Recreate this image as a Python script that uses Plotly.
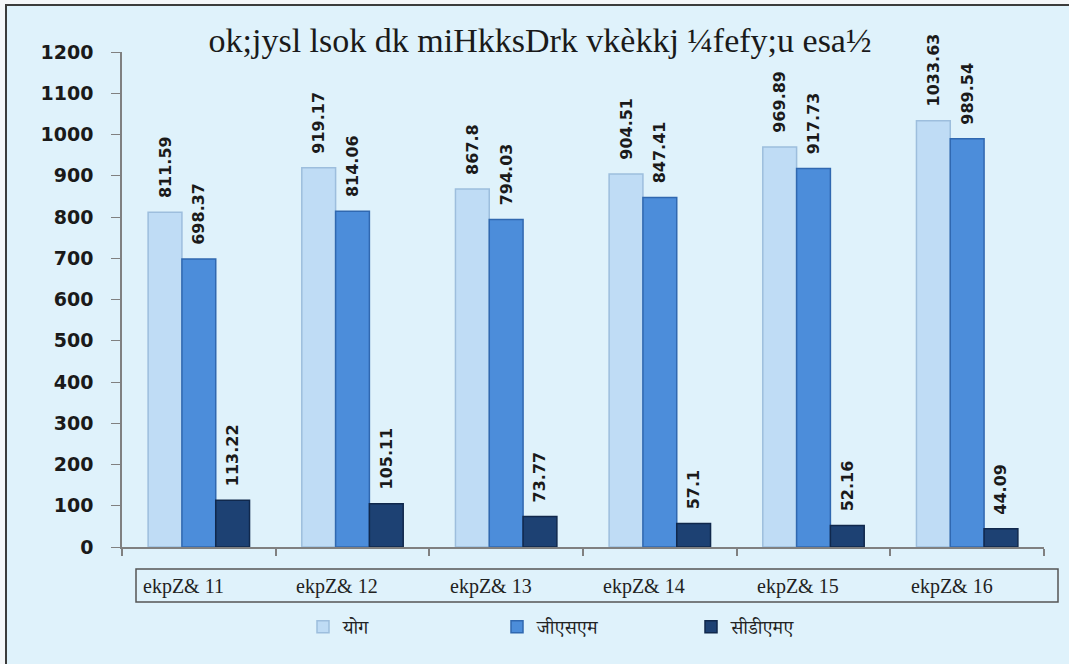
import plotly.graph_objects as go

# Wireless subscriber base (in millions), March of each year
categories = ["ekpZ& 11", "ekpZ& 12", "ekpZ& 13", "ekpZ& 14", "ekpZ& 15", "ekpZ& 16"]
series_names = ["योग", "जीएसएम", "सीडीएमए"]
total = [811.59, 919.17, 867.8, 904.51, 969.89, 1033.63]
gsm = [698.37, 814.06, 794.03, 847.41, 917.73, 989.54]
cdma = [113.22, 105.11, 73.77, 57.1, 52.16, 44.09]
y_ticks = list(range(0, 1201, 100))
title_text = "ok;jysl lsok dk miHkksDrk vkèkkj ¼fefy;u esa½"

fills = ["#BFDCF5", "#4C8DDA", "#1D4173"]
edges = ["#9DBEDD", "#3068B0", "#10284C"]

W, H = 1069, 664
L, R, T, B = 122, 25, 52, 117
pw, ph = W - L - R, H - T - B

def px_x(p):
    return (p - L) / pw

def px_y(p):
    return (H - B - p) / ph

x_pos = list(range(len(categories)))

fig = go.Figure()
for name, vals, fc, ec in zip(series_names, [total, gsm, cdma], fills, edges):
    fig.add_trace(go.Bar(
        x=x_pos, y=vals, name=name,
        text=[str(v) for v in vals],
        marker=dict(color=fc, line=dict(color=ec, width=1.5)),
        texttemplate="\u00a0\u00a0%{text}", textposition="outside", textangle=-90,
        constraintext="none",
        textfont=dict(family="DejaVu Sans", size=16, color="#1a1a1a", weight="bold"),
        cliponaxis=False,
    ))

# category labels inside a framed strip under the axis
for i, c in enumerate(categories):
    fig.add_annotation(x=i - 0.1, y=px_y(586), xref="x", yref="paper",
                       yanchor="middle", text=c, showarrow=False,
                       font=dict(family="Liberation Serif", size=20, color="#222222"))

shapes = [
    # outer chart frame
    dict(type="rect", xref="paper", yref="paper", layer="below",
         x0=px_x(6), x1=px_x(1080), y0=px_y(680), y1=px_y(5),
         fillcolor="#DFF2FB", line=dict(color="#3c3c3c", width=2)),
    # frame around category labels
    dict(type="rect", xref="paper", yref="paper",
         x0=px_x(136), x1=px_x(1058), y0=px_y(602), y1=px_y(569),
         line=dict(color="#555555", width=1.5)),
]

fig.update_layout(
    width=W, height=H,
    margin=dict(l=L, r=R, t=T, b=B, autoexpand=False),
    paper_bgcolor="#F5F7F9", plot_bgcolor="rgba(0,0,0,0)",
    barmode="group", bargap=0.34, bargroupgap=0,
    shapes=shapes,
    title=dict(text=title_text, x=540 / W, xanchor="center",
               y=1 - 40 / H, yanchor="middle", yref="container",
               font=dict(family="Liberation Serif", size=34, color="#1a1a1a")),
    xaxis=dict(range=[-0.5, len(categories) - 0.5],
               tickvals=[i - 0.5 for i in range(len(categories) + 1)],
               ticktext=[""] * (len(categories) + 1),
               ticks="outside", ticklen=7, tickcolor="#808080", tickwidth=1.5,
               showline=True, linecolor="#808080", linewidth=1.5,
               showgrid=False, zeroline=False),
    yaxis=dict(range=[0, 1200], tickvals=y_ticks,
               ticks="outside", ticklen=9, tickcolor="#808080", tickwidth=1,
               showline=True, linecolor="#808080", linewidth=1.5,
               showgrid=False, zeroline=False, ticklabelstandoff=14,
               tickfont=dict(family="DejaVu Sans", size=19, color="#1a1a1a", weight="bold")),
    legend=dict(orientation="h", x=px_x(303), xanchor="left",
                y=px_y(627), yanchor="middle",
                entrywidth=149, entrywidthmode="pixels",
                itemwidth=30,
                bgcolor="rgba(0,0,0,0)",
                font=dict(family="Noto Serif Devanagari, Noto Sans Devanagari, Lohit Devanagari, FreeSerif, sans-serif",
                          size=19, color="#222222")),
    showlegend=True,
)

fig.write_html("out.html")
